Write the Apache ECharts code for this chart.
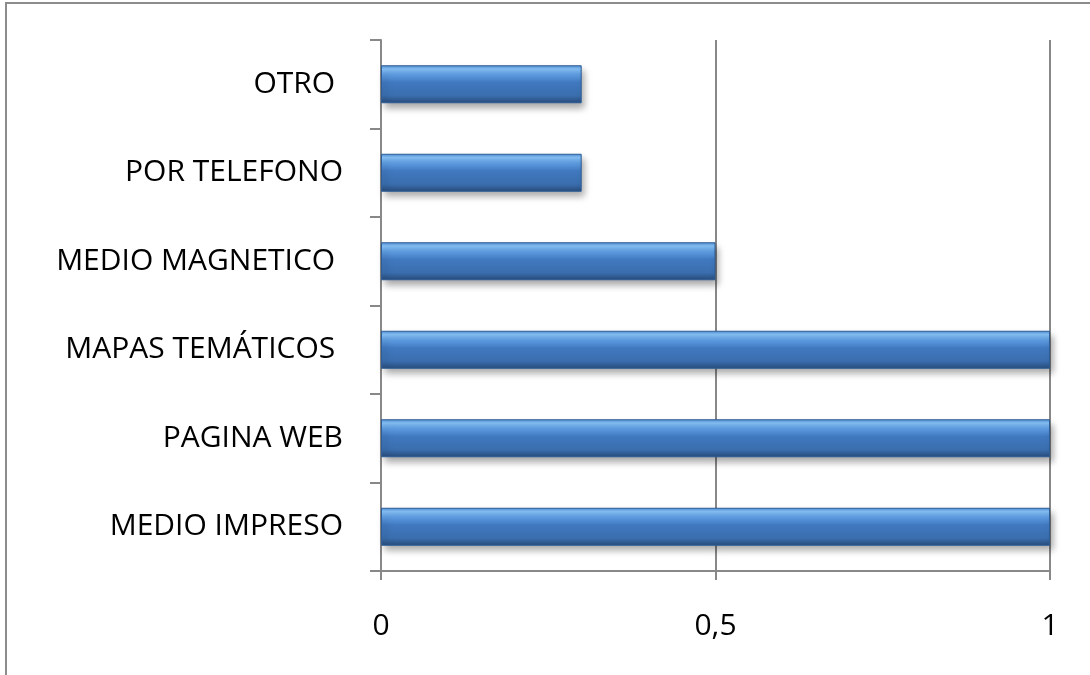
<!DOCTYPE html>
<html>
<head>
<meta charset="utf-8">
<script src="https://cdn.jsdelivr.net/npm/echarts@6/dist/echarts.min.js"></script>
<style>
  html, body { margin: 0; padding: 0; background: #fff; }
  #chart { width: 1090px; height: 675px; }
</style>
</head>
<body>
<div id="chart"></div>
<script>
// categories bottom -> top (category axis starts at the bottom)
const categories = ['MEDIO IMPRESO', 'PAGINA WEB', 'MAPAS TEMÁTICOS ', 'MEDIO MAGNETICO ', 'POR TELEFONO', 'OTRO '];
const values = [1, 1, 1, 0.5, 0.3, 0.3];
const xTicks = [0, 0.5, 1];

const axisGray = '#888888';
const chart = echarts.init(document.getElementById('chart'));

chart.setOption({
    animation: false,
    textStyle: { fontFamily: 'Open Sans' },
    graphic: [{
        // outer chart frame (only top & left visible)
        type: 'rect',
        shape: { x: 6, y: 3, width: 1300, height: 900 },
        style: { fill: 'none', stroke: '#8c8c8c', lineWidth: 2 },
        silent: true
    }],
    grid: { left: 381, right: 40, top: 40, bottom: 104 },
    xAxis: {
        type: 'value',
        min: xTicks[0],
        max: xTicks[xTicks.length - 1],
        interval: 0.5,
        axisLine: { show: true, lineStyle: { color: axisGray, width: 2 } },
        axisTick: { show: true, length: 9, lineStyle: { color: axisGray, width: 2 } },
        splitLine: { show: true, lineStyle: { color: axisGray, width: 2 } },
        axisLabel: {
            margin: 40,
            fontSize: 30,
            color: '#000',
            formatter: v => String(v).replace('.', ',')
        }
    },
    yAxis: {
        type: 'category',
        data: categories,
        axisLine: { show: true, lineStyle: { color: axisGray, width: 2 } },
        axisTick: { show: true, length: 11, lineStyle: { color: axisGray, width: 2 } },
        axisLabel: { margin: 38, fontSize: 30, color: '#000' }
    },
    series: [{
        type: 'bar',
        data: values,
        barWidth: 38,
        itemStyle: {
            color: new echarts.graphic.LinearGradient(0, 0, 0, 1, [
                { offset: 0, color: '#4f8bd3' },
                { offset: 0.1, color: '#86c2f8' },
                { offset: 0.25, color: '#5e9de3' },
                { offset: 0.45, color: '#4179c0' },
                { offset: 0.8, color: '#3a6eae' },
                { offset: 1, color: '#284b7a' }
            ]),
            borderColor: '#2e5d96',
            borderWidth: 1,
            shadowColor: 'rgba(0,0,0,0.35)',
            shadowBlur: 7,
            shadowOffsetX: 3,
            shadowOffsetY: 5
        }
    }]
});
</script>
</body>
</html>
